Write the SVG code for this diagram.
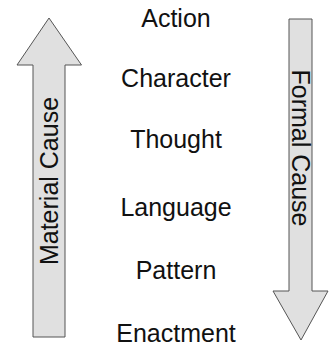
<svg xmlns="http://www.w3.org/2000/svg" width="329" height="352" viewBox="0 0 329 352">
<style>
.lbl{font-family:"Liberation Sans",Arial,sans-serif;font-size:25px;fill:#111;text-anchor:middle}
.arr{fill:#e0e0e0;stroke:#555;stroke-width:1}
</style>
<rect width="329" height="352" fill="#fff"/>
<g id="connectors">
<g id="material-cause">
<path class="arr" d="M49,18 L81.5,65 L65,65 L65,337 L33,337 L33,65 L17,65 Z"/>
<text class="lbl" transform="translate(58,181) rotate(-90)">Material Cause</text>
</g>
<g id="formal-cause">
<path class="arr" d="M289,19 L312,19 L312,291 L328,291 L301,340 L273,291 L289,291 Z"/>
<text class="lbl" transform="translate(292,148) rotate(90)">Formal Cause</text>
</g>
</g>
<g id="action"><text class="lbl" x="176" y="27">Action</text></g>
<g id="character"><text class="lbl" x="176" y="87">Character</text></g>
<g id="thought"><text class="lbl" x="176" y="148">Thought</text></g>
<g id="language"><text class="lbl" x="176" y="216">Language</text></g>
<g id="pattern"><text class="lbl" x="176" y="279">Pattern</text></g>
<g id="enactment"><text class="lbl" x="176" y="342">Enactment</text></g>
</svg>
